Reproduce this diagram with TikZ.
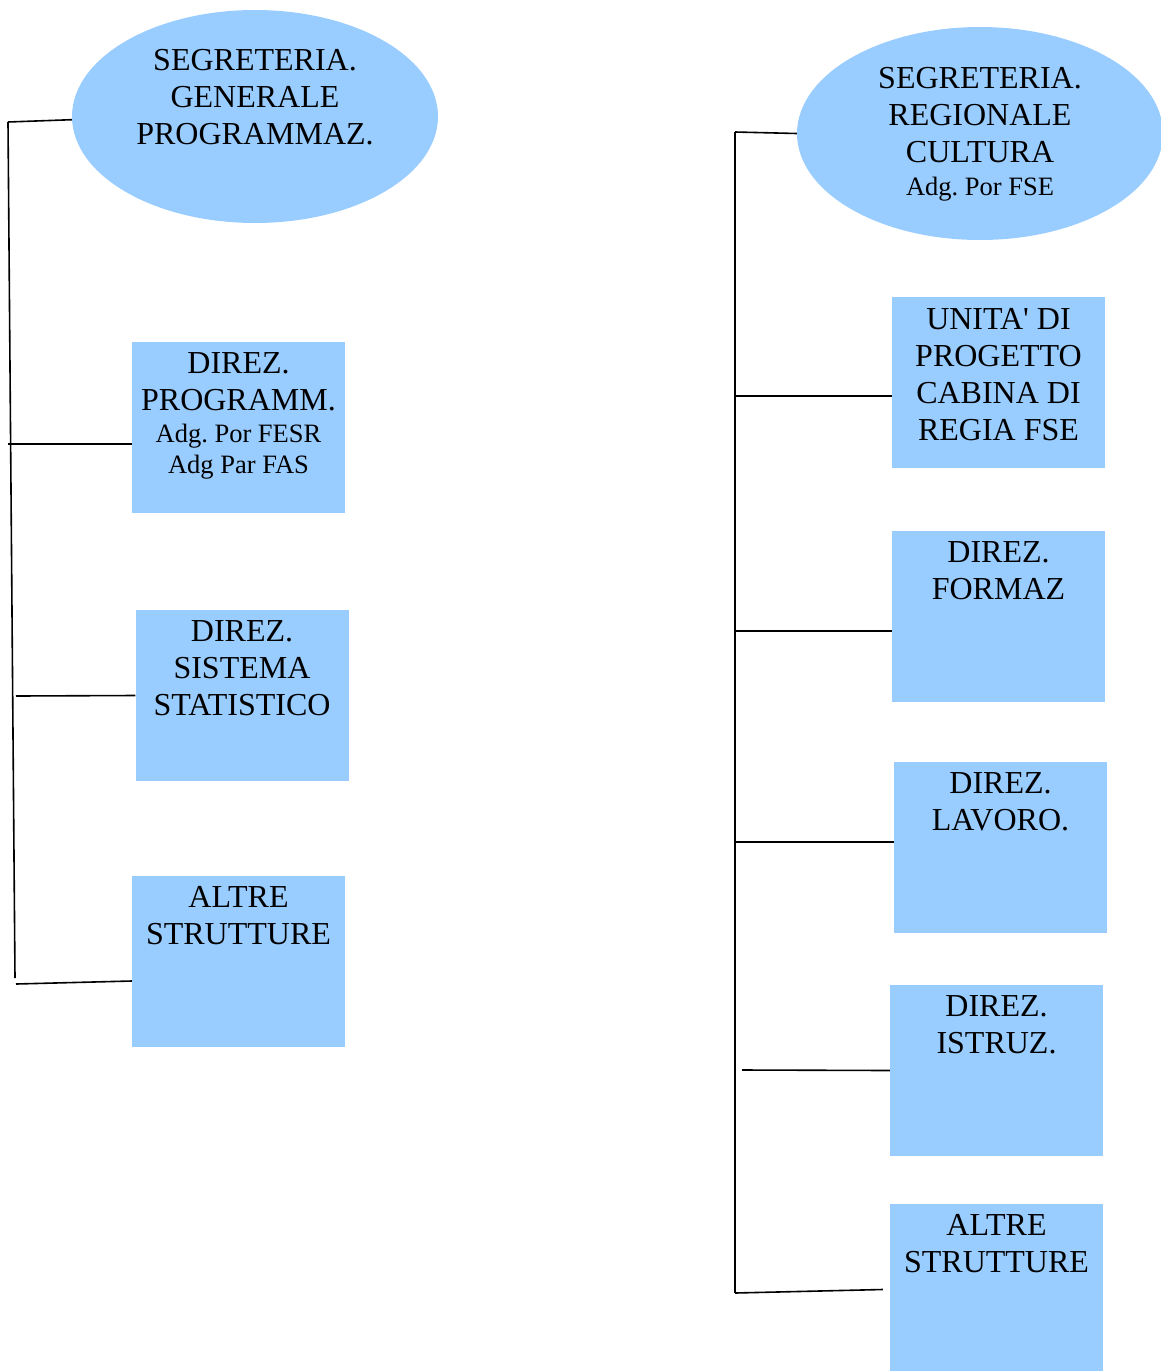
\documentclass[tikz,border=0pt]{standalone}
\usepackage{fontspec}
\setmainfont{Liberation Serif}
\usetikzlibrary{positioning, shapes.geometric}
\definecolor{boxblue}{RGB}{153,204,255}
\newcommand{\bigtxt}{\fontsize{32}{37}\selectfont}
\newcommand{\smalltxt}{\fontsize{26.5}{31}\selectfont}
\frenchspacing

\begin{document}
\begin{tikzpicture}[
        x=1pt, y=-1pt,
        office/.style={ellipse, fill=boxblue, minimum width=366pt, minimum height=213pt, inner sep=0pt},
        unit/.style={rectangle, fill=boxblue, minimum width=213pt, minimum height=171pt, inner sep=0pt},
        caption/.style={align=center, font=\bigtxt, inner sep=0pt},
        link/.style={line width=1.6pt},
    ]
        \useasboundingbox (0,0) rectangle (1160,1371);

        \node[office] (seg_gen) at (255,116.5) {};
        \node[office] (seg_reg) at (980,133.5) {};
        \node[caption, below=39.5pt of seg_gen.north] (seg_gen_txt) {SEGRETERIA.\\GENERALE\\PROGRAMMAZ.};
        \node[caption, below=40.5pt of seg_reg.north] (seg_reg_txt) {SEGRETERIA.\\REGIONALE\\CULTURA\\[-4pt]\smalltxt Adg. Por FSE};

        \node[unit] (dir_prog) at (238.5,427.5) {};
        \node[unit] (dir_stat) at (242,695.5) {};
        \node[unit] (altre_sx) at (238.5,961.5) {};
        \node[caption, below=10.5pt of dir_prog.north] (dir_prog_txt) {DIREZ.\\PROGRAMM.\\[-5pt]\smalltxt Adg. Por FESR\\[-6pt]\smalltxt Adg Par FAS};
        \node[caption, below=10.5pt of dir_stat.north] (dir_stat_txt) {DIREZ.\\SISTEMA\\STATISTICO};
        \node[caption, below=10.5pt of altre_sx.north] (altre_sx_txt) {ALTRE\\STRUTTURE};

        \node[unit] (unita_fse) at (998.5,382.5) {};
        \node[unit] (dir_form) at (998.5,616.5) {};
        \node[unit] (dir_lav) at (1000.5,847.5) {};
        \node[unit] (dir_istr) at (996.5,1070.5) {};
        \node[unit] (altre_dx) at (996.5,1289.5) {};
        \node[caption, below=11pt of unita_fse.north] (unita_fse_txt) {UNITA\textquotesingle{} DI\\PROGETTO\\CABINA DI\\REGIA FSE};
        \node[caption, below=10.5pt of dir_form.north] (dir_form_txt) {DIREZ.\\FORMAZ};
        \node[caption, below=10.5pt of dir_lav.north] (dir_lav_txt) {DIREZ.\\LAVORO.};
        \node[caption, below=10.5pt of dir_istr.north] (dir_istr_txt) {DIREZ.\\ISTRUZ.};
        \node[caption, below=10.5pt of altre_dx.north] (altre_dx_txt) {ALTRE\\STRUTTURE};

        \coordinate (sx_top) at (8,122);
        \coordinate (sx_bot) at (15,978);
        \coordinate (sx_1) at (8,444);
        \coordinate (sx_2) at (16,696);
        \coordinate (sx_3) at (16,984);
        \draw[link] (sx_top) -- (sx_bot);
        \draw[link] (sx_top) -- (seg_gen.181);
        \draw[link] (sx_1) -- (sx_1 -| dir_prog.west);
        \draw[link] (sx_2) -- (dir_stat.west);
        \draw[link] (sx_3) -- ([yshift=-19.5pt]altre_sx.west);

        \coordinate (dx_top) at (735,132);
        \coordinate (dx_bot) at (735,1293);
        \coordinate (dx_1) at (735,396);
        \coordinate (dx_2) at (735,631);
        \coordinate (dx_3) at (735,842);
        \coordinate (dx_4) at (742,1070);
        \draw[link] (dx_top) -- (dx_bot);
        \draw[link] (dx_top) -- (seg_reg.west);
        \draw[link] (dx_1) -- (dx_1 -| unita_fse.west);
        \draw[link] (dx_2) -- (dx_2 -| dir_form.west);
        \draw[link] (dx_3) -- (dx_3 -| dir_lav.west);
        \draw[link] (dx_4) -- (dir_istr.west);
        \draw[link] (dx_bot) -- ([xshift=-7pt]altre_dx.west);
    \end{tikzpicture}
\end{document}
